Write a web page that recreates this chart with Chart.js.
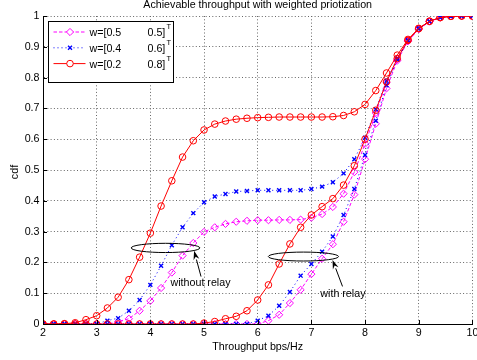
<!DOCTYPE html>
<html>
<head>
<meta charset="utf-8">
<title>Achievable throughput with weighted priotization</title>
<script src="https://cdn.jsdelivr.net/npm/chart.js"></script>
<style>
  body { margin: 0; background: #fff; }
</style>
</head>
<body>
<canvas id="cdfChart" width="477" height="360"></canvas>
<script>
// throughput grid (bps/Hz)
const xs = [2, 2.2, 2.4, 2.6, 2.8, 3, 3.2, 3.4, 3.6, 3.8,
            4, 4.2, 4.4, 4.6, 4.8, 5, 5.2, 5.4, 5.6, 5.8,
            6, 6.2, 6.4, 6.6, 6.8, 7, 7.2, 7.4, 7.6, 7.8,
            8, 8.2, 8.4, 8.6, 8.8, 9, 9.2, 9.4, 9.6, 9.8, 10];

const xTicks = [2, 3, 4, 5, 6, 7, 8, 9, 10];
const xTickLabels = ['2', '3', '4', '5', '6', '7', '8', '9', '10'];
const yTicks = [0, 0.1, 0.2, 0.3, 0.4, 0.5, 0.6, 0.7, 0.8, 0.9, 1];
const yTickLabels = ['0', '0.1', '0.2', '0.3', '0.4', '0.5', '0.6', '0.7', '0.8', '0.9', '1'];

// without relay
const mag1 = [0, 0, 0, 0, 0, 0, 0, 0.008, 0.017, 0.043,
              0.075, 0.117, 0.167, 0.222, 0.263, 0.299, 0.314, 0.325, 0.332, 0.335,
              0.337, 0.337, 0.338, 0.338, 0.339, 0.345, 0.357, 0.38, 0.423, 0.493,
              0.585, 0.685, 0.785, 0.86, 0.92, 0.958, 0.982, 0.995, 0.999, 1, 1];
const blue1 = [0, 0, 0, 0, 0, 0, 0.011, 0.019, 0.043, 0.078,
               0.127, 0.189, 0.256, 0.314, 0.36, 0.395, 0.414, 0.422, 0.43, 0.432,
               0.434, 0.434, 0.434, 0.434, 0.434, 0.438, 0.446, 0.46, 0.489, 0.535,
               0.605, 0.697, 0.79, 0.862, 0.922, 0.96, 0.983, 0.995, 0.999, 1, 1];
const red1 = [0, 0, 0.001, 0.004, 0.014, 0.027, 0.052, 0.087, 0.144, 0.217,
              0.295, 0.383, 0.465, 0.542, 0.595, 0.63, 0.649, 0.659, 0.665, 0.668,
              0.67, 0.671, 0.672, 0.672, 0.672, 0.672, 0.672, 0.673, 0.677, 0.689,
              0.713, 0.758, 0.815, 0.873, 0.924, 0.96, 0.983, 0.995, 0.999, 1, 1];

// with relay
const mag2 = [0, 0, 0, 0, 0, 0, 0, 0, 0, 0,
              0, 0, 0, 0, 0, 0, 0, 0, 0, 0,
              0, 0.011, 0.03, 0.068, 0.111, 0.162, 0.212, 0.259, 0.332, 0.42,
              0.535, 0.65, 0.765, 0.855, 0.918, 0.957, 0.982, 0.995, 0.999, 1, 1];
const blue2 = [0, 0, 0, 0, 0, 0, 0, 0, 0, 0,
               0, 0, 0, 0, 0, 0, 0, 0, 0, 0,
               0.011, 0.027, 0.059, 0.104, 0.157, 0.195, 0.235, 0.284, 0.354, 0.438,
               0.549, 0.66, 0.775, 0.858, 0.92, 0.958, 0.982, 0.995, 0.999, 1, 1];
const red2 = [0, 0, 0, 0, 0, 0, 0, 0, 0, 0,
              0, 0, 0, 0, 0, 0.003, 0.008, 0.017, 0.025, 0.043,
              0.078, 0.127, 0.195, 0.26, 0.314, 0.354, 0.381, 0.407, 0.451, 0.514,
              0.6, 0.694, 0.786, 0.862, 0.921, 0.959, 0.983, 0.995, 0.999, 1, 1];

const legendLeft = ['w=[0.5', 'w=[0.4', 'w=[0.2'];
const legendRight = ['0.5]', '0.6]', '0.8]'];

const FONT = '"Liberation Sans", Arial, Helvetica, sans-serif';
const MAGENTA = '#ff00ff', BLUE = '#0000ff', RED = '#ff0000';

const pts = arr => xs.map((x, i) => ({ x: x, y: arr[i] }));

const styles = {
  mag: { borderColor: MAGENTA, borderWidth: 1, borderDash: [3.5, 2], pointStyle: 'rectRot',
         pointRadius: 3.6, pointBorderWidth: 1 },
  blue: { borderColor: BLUE, borderWidth: 1, borderDash: [1, 3], pointStyle: 'crossRot',
          pointRadius: 2.8, pointBorderWidth: 1.4 },
  red: { borderColor: RED, borderWidth: 1, borderDash: [], pointStyle: 'circle',
         pointRadius: 3.3, pointBorderWidth: 1 }
};

function ds(label, arr, st) {
  return Object.assign({
    label: label, data: pts(arr), tension: 0, fill: false,
    backgroundColor: 'rgba(0,0,0,0)', pointBackgroundColor: 'rgba(0,0,0,0)',
    pointBorderColor: st.borderColor, pointHoverRadius: st.pointRadius
  }, st);
}

// draws title, axis titles, ticks, legend and the two annotations
const decor = {
  id: 'decor',
  afterDraw(chart) {
    const { ctx, chartArea: a, scales: { x, y } } = chart;
    ctx.save();
    ctx.fillStyle = '#000';
    ctx.font = '10.7px ' + FONT;
    ctx.textAlign = 'center';
    ctx.textBaseline = 'alphabetic';
    ctx.fillText('Achievable throughput with weighted priotization', (a.left + a.right) / 2, 8);
    ctx.textBaseline = 'middle';
    ctx.fillText('Throughput bps/Hz', (a.left + a.right) / 2, 347);
    ctx.save();
    ctx.translate(15, (a.top + a.bottom) / 2 + 2);
    ctx.rotate(-Math.PI / 2);
    ctx.fillText('cdf', 0, 0);
    ctx.restore();

    // inward tick marks
    ctx.strokeStyle = '#000';
    ctx.lineWidth = 1;
    ctx.beginPath();
    xTicks.forEach(v => {
      const px = Math.round(x.getPixelForValue(v)) + 0.5;
      ctx.moveTo(px, a.bottom); ctx.lineTo(px, a.bottom - 4);
    });
    yTicks.forEach(v => {
      const py = Math.round(y.getPixelForValue(v)) + 0.5;
      ctx.moveTo(a.left, py); ctx.lineTo(a.left + 4, py);
    });
    ctx.stroke();

    // legend
    const lx = a.left + 5.5, ly = a.top + 5.5, lw = 125, lh = 61;
    ctx.fillStyle = '#fff';
    ctx.fillRect(lx, ly, lw, lh);
    ctx.strokeStyle = '#000';
    ctx.strokeRect(lx, ly, lw, lh);
    const rows = [styles.mag, styles.blue, styles.red];
    rows.forEach((st, i) => {
      const cy = ly + 10.5 + i * 15.8;
      ctx.strokeStyle = st.borderColor;
      ctx.lineWidth = st.borderWidth;
      ctx.setLineDash(st.borderDash);
      ctx.beginPath(); ctx.moveTo(lx + 5, cy); ctx.lineTo(lx + 37, cy); ctx.stroke();
      ctx.setLineDash([]);
      ctx.lineWidth = st.pointBorderWidth;
      const mx = lx + 21.5, r = st.pointRadius;
      ctx.beginPath();
      if (st.pointStyle === 'circle') {
        ctx.fillStyle = '#fff';
        ctx.arc(mx, cy, r, 0, Math.PI * 2);
        ctx.fill();
      } else if (st.pointStyle === 'rectRot') {
        ctx.fillStyle = '#fff';
        ctx.moveTo(mx, cy - r); ctx.lineTo(mx + r, cy); ctx.lineTo(mx, cy + r); ctx.lineTo(mx - r, cy); ctx.closePath();
        ctx.fill();
      } else {
        const d = r * 0.7071;
        ctx.moveTo(mx - d, cy - d); ctx.lineTo(mx + d, cy + d);
        ctx.moveTo(mx + d, cy - d); ctx.lineTo(mx - d, cy + d);
      }
      ctx.stroke();
      ctx.fillStyle = '#000';
      ctx.font = '10.7px ' + FONT;
      ctx.textAlign = 'left';
      ctx.textBaseline = 'middle';
      ctx.fillText(legendLeft[i], lx + 41, cy + 1.5);
      ctx.fillText(legendRight[i], lx + 99, cy + 1.5);
      ctx.font = '7.5px ' + FONT;
      ctx.fillText('T', lx + 118, cy - 5);
    });

    // annotations: ellipse + arrow + label, given in data units
    const notes = [
      { text: 'without relay', ex: 4.283, ey: 0.247, rx: 0.64, ry: 0.015,
        tip: [4.815, 0.2375], tail: [4.944, 0.154], tx: 4.376, ty: 0.125 },
      { text: 'with relay', ex: 6.852, ey: 0.219, rx: 0.654, ry: 0.0145,
        tip: [7.394, 0.208], tail: [7.58, 0.122], tx: 7.167, ty: 0.0875 }
    ];
    ctx.strokeStyle = '#000';
    ctx.fillStyle = '#000';
    ctx.lineWidth = 1;
    notes.forEach(n => {
      const cx = x.getPixelForValue(n.ex), cy = y.getPixelForValue(n.ey);
      const rxp = x.getPixelForValue(n.ex + n.rx) - cx;
      const ryp = cy - y.getPixelForValue(n.ey + n.ry);
      ctx.beginPath();
      ctx.ellipse(cx, cy, rxp, ryp, 0, 0, Math.PI * 2);
      ctx.stroke();
      const hx = x.getPixelForValue(n.tip[0]), hy = y.getPixelForValue(n.tip[1]);
      const tx = x.getPixelForValue(n.tail[0]), ty = y.getPixelForValue(n.tail[1]);
      const ang = Math.atan2(hy - ty, hx - tx);
      const len = 9, half = 3;
      const bx = hx - len * Math.cos(ang), by = hy - len * Math.sin(ang);
      ctx.beginPath(); ctx.moveTo(tx, ty); ctx.lineTo(bx, by); ctx.stroke();
      ctx.beginPath();
      ctx.moveTo(hx, hy);
      ctx.lineTo(bx + half * Math.sin(ang), by - half * Math.cos(ang));
      ctx.lineTo(hx - 6 * Math.cos(ang), hy - 6 * Math.sin(ang));
      ctx.lineTo(bx - half * Math.sin(ang), by + half * Math.cos(ang));
      ctx.closePath();
      ctx.fill();
      ctx.font = '10.7px ' + FONT;
      ctx.textAlign = 'left';
      ctx.textBaseline = 'alphabetic';
      ctx.fillText(n.text, x.getPixelForValue(n.tx), y.getPixelForValue(n.ty));
    });
    ctx.restore();
  }
};

const gridOpts = { color: '#666', lineWidth: 1, drawTicks: false };
const borderOpts = { display: true, color: '#000', width: 1, dash: [1, 2.3] };
const tickFont = { family: FONT, size: 10.7 };

new Chart(document.getElementById('cdfChart').getContext('2d'), {
  type: 'line',
  data: {
    datasets: [
      ds('w=[0.2 0.8]ᵀ', red1, styles.red),
      ds('w=[0.2 0.8]ᵀ relay', red2, styles.red),
      ds('w=[0.4 0.6]ᵀ', blue1, styles.blue),
      ds('w=[0.4 0.6]ᵀ relay', blue2, styles.blue),
      ds('w=[0.5 0.5]ᵀ', mag1, styles.mag),
      ds('w=[0.5 0.5]ᵀ relay', mag2, styles.mag)
    ]
  },
  options: {
    responsive: false,
    animation: false,
    devicePixelRatio: 1,
    layout: { padding: { top: 16, right: 2, left: 0, bottom: 0 } },
    plugins: { legend: { display: false }, title: { display: false }, tooltip: { enabled: false } },
    scales: {
      x: {
        type: 'linear', min: 2, max: 10,
        afterBuildTicks: s => { s.ticks = xTicks.map(v => ({ value: v })); },
        afterFit: s => { s.height = 36; s.paddingLeft = 0; s.paddingRight = 0; },
        ticks: { padding: 3, color: '#000', font: tickFont, maxRotation: 0, autoSkip: false,
                 callback: (v, i) => xTickLabels[i] },
        grid: gridOpts,
        border: borderOpts
      },
      y: {
        type: 'linear', min: 0, max: 1,
        afterBuildTicks: s => { s.ticks = yTicks.map(v => ({ value: v })); },
        afterFit: s => { s.width = 43; s.paddingTop = 0; s.paddingBottom = 0; },
        ticks: { padding: 3.5, color: '#000', font: tickFont, autoSkip: false,
                 callback: (v, i) => yTickLabels[i] },
        grid: gridOpts,
        border: borderOpts
      }
    }
  },
  plugins: [decor]
});
</script>
</body>
</html>
